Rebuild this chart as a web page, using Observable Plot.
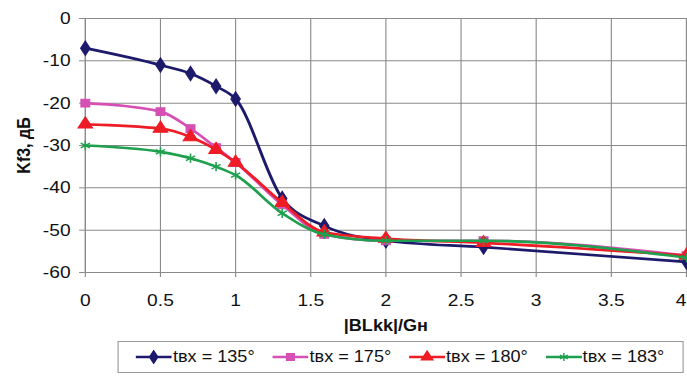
<!DOCTYPE html>
<html><head><meta charset="utf-8">
<script src="https://cdn.jsdelivr.net/npm/d3@7"></script>
<script src="https://cdn.jsdelivr.net/npm/@observablehq/plot@0.6"></script>
<style>
body{margin:0;background:#fff;font-family:"Liberation Sans",Arial,sans-serif;width:687px;height:376px;overflow:hidden;position:relative}
#wrap{position:absolute;left:0;top:0;width:608px;height:376px;transform:scaleX(1.13);transform-origin:0 0}
#legend{position:absolute;left:103.5px;top:341px;width:501px;height:32px;border:1px solid #999;box-sizing:border-box;display:flex;align-items:center;justify-content:space-evenly;font-size:16px;color:#111}
#legend span.item{display:flex;align-items:center;gap:1px}
</style></head><body>
<div id="wrap"><div id="chart"></div><div id="legend"></div></div>
<script>
const xs = [0, 0.5, 0.7, 0.87, 1, 1.31, 1.59, 2, 2.65, 4];
const seriesNames = ["tвх = 135°", "tвх = 175°", "tвх = 180°", "tвх = 183°"];
const t135 = [-7, -11, -13, -16, -19, -42.5, -49, -52.5, -54, -57.5];
const t175 = [-20, -22, -26, -30.5, -34, -44, -51, -52.5, -52.5, -56];
const t180 = [-25, -26, -28, -31, -34, -43.5, -50.5, -52, -53, -56];
const t183 = [-30, -31.5, -33, -35, -37, -46, -51, -52.5, -52.5, -56.5];
const colors = ["#1d1a6b", "#d64fb4", "#ee1c25", "#1fa04f"];
const symbols = ["diamond", "square", "triangle", "asterisk"];
const xTicks = [0, 0.5, 1, 1.5, 2, 2.5, 3, 3.5, 4];
const yTicks = [0, -10, -20, -30, -40, -50, -60];

const allSeries = [t135, t175, t180, t183];
const data = allSeries.flatMap((ys, i) => ys.map((y, j) => ({x: xs[j], y, s: seriesNames[i], i})));

const marks = [
  Plot.gridX(xTicks, {stroke: "#8a8a8a", strokeOpacity: 1, strokeWidth: 1}),
  Plot.gridY(yTicks, {stroke: "#8a8a8a", strokeOpacity: 1, strokeWidth: 1}),
  Plot.frame({stroke: "#8a8a8a"}),
  Plot.axisX({ticks: xTicks, tickSize: 5, tickPadding: 16, fontSize: 17, stroke: "#8a8a8a", tickFormat: d => String(d), label: "|BLkk|/Gн", labelAnchor: "center", labelArrow: "none", labelOffset: 58}),
  Plot.axisY({ticks: yTicks, tickSize: 5, tickPadding: 8, fontSize: 17, stroke: "#8a8a8a", tickFormat: d => String(d), label: "Kf3, дБ", labelAnchor: "center", labelArrow: "none", labelOffset: 60})
];
allSeries.forEach((ys, i) => {
  const d = data.filter(p => p.i === i);
  marks.push(Plot.line(d, {x: "x", y: "y", stroke: colors[i], strokeWidth: 2.6, curve: "monotone-x"}));
  const filled = symbols[i] !== "asterisk";
  marks.push(Plot.dot(d, {x: "x", y: "y", symbol: () => symbols[i], r: symbols[i] === "triangle" ? 4.8 : 4.4,
    fill: filled ? colors[i] : "none", stroke: colors[i], strokeWidth: filled ? 1 : 1.4}));
});

const chart = Plot.plot({
  width: 608, height: 336,
  marginLeft: 75, marginRight: 1, marginTop: 18, marginBottom: 64,
  x: {domain: [0, 4]},
  y: {domain: [-60, 0]},
  symbol: {type: "identity"},
  style: {fontFamily: "'Liberation Sans', Arial, sans-serif", fontSize: "17px", color: "#111", overflow: "visible"},
  marks
});
document.getElementById("chart").appendChild(chart);
chart.querySelectorAll("[aria-label='x-axis label'] text, [aria-label='y-axis label'] text").forEach(t => {t.style.fontWeight = "bold"; t.style.fontSize = "16px";});
// keep the last x tick label inside the picture
const xt = chart.querySelectorAll("[aria-label='x-axis tick label'] text");
if (xt.length) xt[xt.length - 1].setAttribute("text-anchor", "end");

const legend = document.getElementById("legend");
const d3sym = {diamond: d3.symbolDiamond, square: d3.symbolSquare, triangle: d3.symbolTriangle, asterisk: d3.symbolAsterisk};
seriesNames.forEach((n, i) => {
  const item = document.createElement("span");
  item.className = "item";
  const sym = d3.symbol().type(d3sym[symbols[i]]).size(45)();
  const filled = symbols[i] !== "asterisk";
  item.innerHTML = `<svg width="32" height="14"><line x1="0" x2="32" y1="7" y2="7" stroke="${colors[i]}" stroke-width="2.6"/><path transform="translate(16,7)" d="${sym}" fill="${filled ? colors[i] : "none"}" stroke="${colors[i]}" stroke-width="1.3"/></svg><span>${n}</span>`;
  legend.appendChild(item);
});
</script>
</body></html>
